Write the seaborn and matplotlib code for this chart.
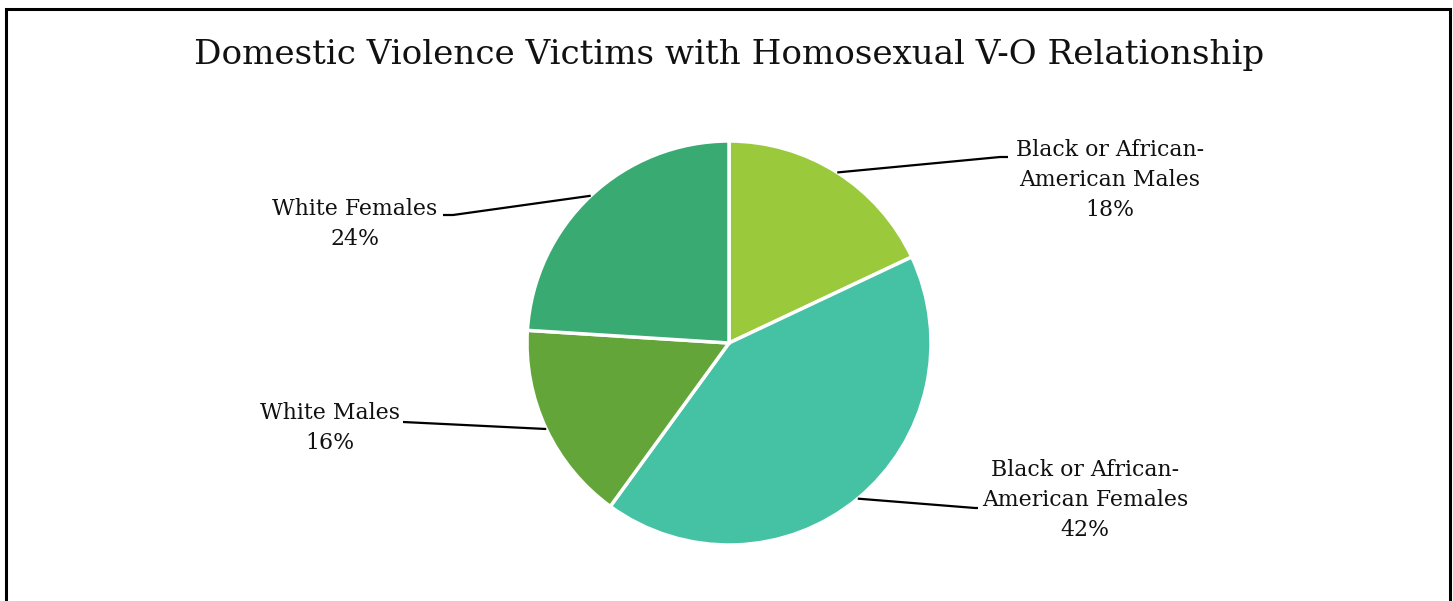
import numpy as np
import matplotlib
matplotlib.use("Agg")
import matplotlib.pyplot as plt
import seaborn as sns

# Victim groups, clockwise from 12 o'clock
categories = [
    "Black or African-\nAmerican Males",
    "Black or African-\nAmerican Females",
    "White Males",
    "White Females",
]
shares = [18, 42, 16, 24]
colors = ["#9ACA3C", "#45C1A4", "#64A539", "#3AAA73"]

sns.set_theme(style="white")
plt.rcParams["font.family"] = ["DejaVu Serif"]

W, H = 1453, 601
fig = plt.figure(figsize=(W / 100, H / 100), dpi=100)
ax = fig.add_axes([0, 0, 1, 1])

cx, cy, r = 729, H - 343, 202
wedges, _ = ax.pie(
    shares, colors=colors, startangle=90, counterclock=False,
    center=(cx, cy), radius=r, frame=True,
    wedgeprops=dict(edgecolor="white", linewidth=2.5),
)
ax.set_xlim(0, W)
ax.set_ylim(0, H)
ax.set_aspect("equal")
ax.axis("off")

# label layout: elbow point, end of the short horizontal, text centre
layout = [
    dict(elbow=(1000, H - 157), end=(1008, H - 157), text=(1110, H - 180)),
    dict(elbow=(975, H - 508), end=(978, H - 508), text=(1085, H - 500)),
    dict(elbow=(403, H - 422), end=(403, H - 422), text=(330, H - 428)),
    dict(elbow=(453, H - 215), end=(443, H - 215), text=(355, H - 224)),
]

for w, name, val, lay in zip(wedges, categories, shares, layout):
    mid = np.deg2rad((w.theta1 + w.theta2) / 2)
    px, py = cx + r * np.cos(mid), cy + r * np.sin(mid)
    ex, ey = lay["elbow"]
    fx, fy = lay["end"]
    ax.plot([px, ex, fx], [py, ey, fy], color="black", lw=1.6,
            solid_capstyle="butt")
    ax.text(lay["text"][0], lay["text"][1], f"{name}\n{val}%",
            ha="center", va="center", fontsize=15.8, color="#111111",
            linespacing=1.5)

fig.text(729 / W, 1 - 55 / H, "Domestic Violence Victims with Homosexual V-O Relationship",
         ha="center", va="center", fontsize=24.6, color="#111111")

# chart frame
frame = plt.Rectangle((6 / W, -0.05), 1444 / W, (H - 9) / H + 0.05,
                      transform=fig.transFigure, fill=False,
                      edgecolor="black", linewidth=2.2)
fig.add_artist(frame)

fig.savefig("out.png", dpi=100, facecolor="white")
